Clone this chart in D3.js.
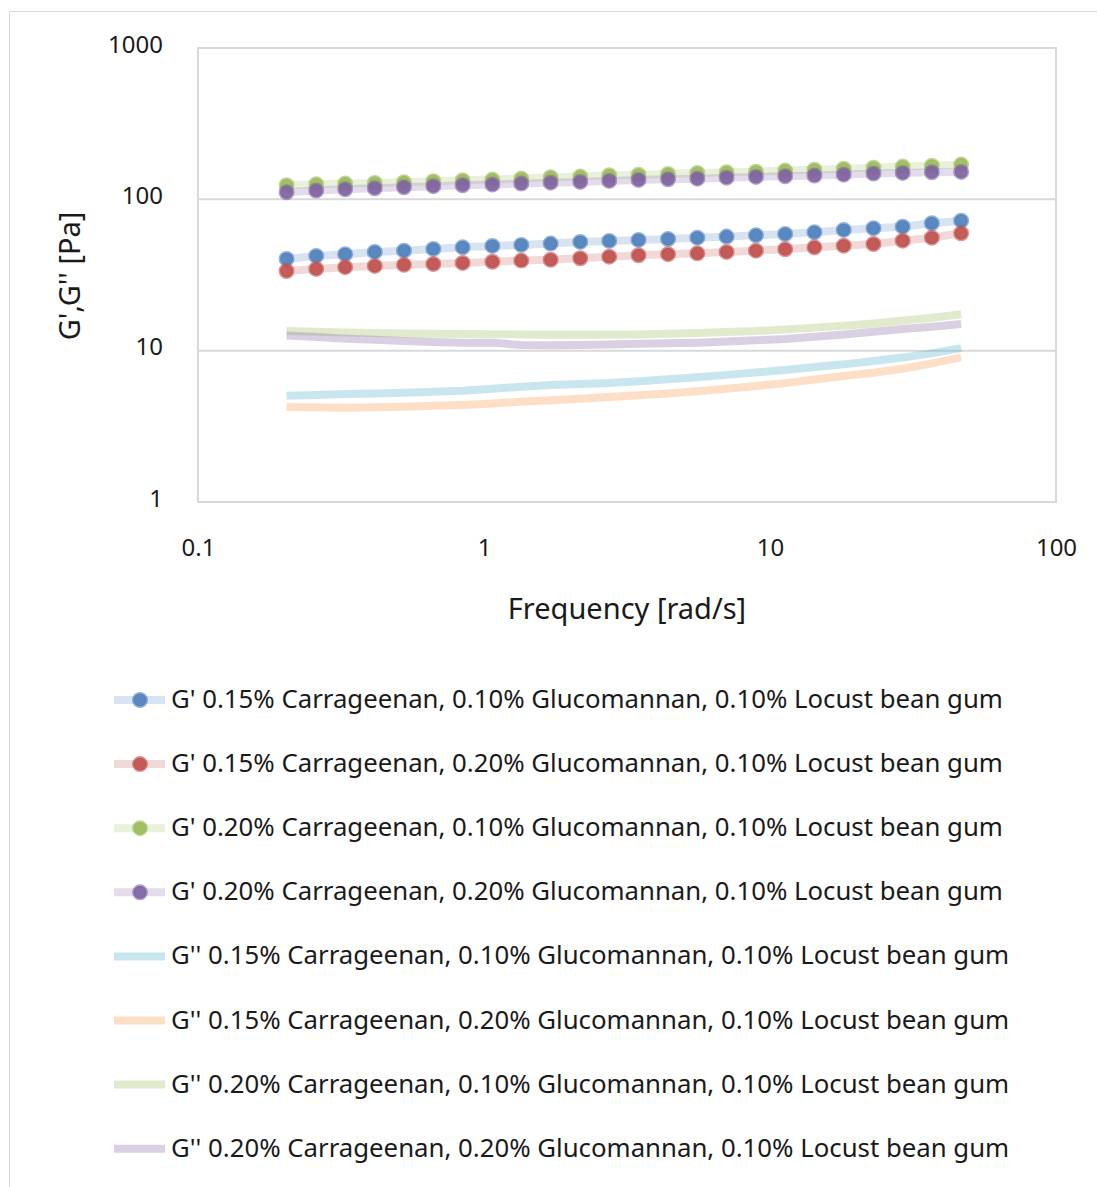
<!DOCTYPE html>
<html>
<head>
<meta charset="utf-8">
<script src="https://cdn.jsdelivr.net/npm/d3@7"></script>
<style>
  html, body { margin: 0; padding: 0; background: #fff; }
  svg { display: block; }
  text { font-family: "Noto Sans", "Open Sans", sans-serif; fill: #1a1a1a; }
</style>
</head>
<body>
<svg id="chart" width="1097" height="1187"></svg>
<script>
// ---------- data ----------
const frequency = [0.204, 0.259, 0.327, 0.415, 0.525, 0.665, 0.842, 1.07, 1.35, 1.71, 2.17, 2.74,
                   3.47, 4.40, 5.57, 7.05, 8.93, 11.3, 14.3, 18.1, 23.0, 29.1, 36.8, 46.6];

const gPrime_c015_g010 = [40.4, 42.3, 43.4, 44.9, 45.8, 47.0, 48.2, 49.2, 50.0, 51.0, 52.3, 53.1,
                          53.9, 54.7, 55.8, 56.7, 57.9, 59.0, 60.6, 62.8, 64.4, 66.0, 69.5, 72.3];
const gPrime_c015_g020 = [33.6, 34.7, 35.6, 36.3, 36.9, 37.4, 38.0, 38.7, 39.4, 39.9, 40.8, 41.8,
                          42.7, 43.4, 44.0, 44.9, 45.8, 46.8, 48.2, 49.4, 50.7, 53.3, 55.8, 59.7];
const gPrime_c020_g010 = [123.9, 125.8, 127.0, 128.4, 129.7, 131.8, 133.7, 135.0, 137.1, 139.9, 141.3, 144.3,
                          145.6, 147.2, 149.4, 151.0, 152.4, 154.8, 157.1, 159.5, 162.0, 164.5, 167.0, 169.6];
const gPrime_c020_g020 = [111.4, 114.2, 116.6, 118.4, 120.2, 122.1, 123.9, 125.1, 127.0, 128.9, 130.3, 132.3,
                          134.3, 135.8, 137.0, 139.1, 140.6, 142.1, 143.5, 145.6, 147.9, 149.4, 151.0, 151.7];

const gDouble_c015_g010 = [5.04, 5.10, 5.17, 5.22, 5.28, 5.36, 5.44, 5.60, 5.78, 5.93, 6.02, 6.12,
                           6.28, 6.48, 6.68, 6.92, 7.18, 7.45, 7.80, 8.12, 8.55, 9.00, 9.60, 10.4];
const gDouble_c015_g020 = [4.25, 4.22, 4.20, 4.22, 4.26, 4.32, 4.38, 4.48, 4.60, 4.70, 4.82, 4.95,
                           5.08, 5.22, 5.40, 5.60, 5.85, 6.10, 6.45, 6.80, 7.15, 7.60, 8.25, 9.04];
const gDouble_c020_g010 = [13.5, 13.35, 13.2, 13.1, 13.0, 12.95, 12.9, 12.85, 12.8, 12.75, 12.75, 12.75,
                           12.8, 12.95, 13.1, 13.3, 13.5, 13.8, 14.2, 14.6, 15.1, 15.8, 16.5, 17.4];
const gDouble_c020_g020 = [12.6, 12.3, 12.0, 11.8, 11.6, 11.4, 11.3, 11.3, 10.9, 10.85, 10.9, 11.0,
                           11.1, 11.2, 11.3, 11.5, 11.7, 11.95, 12.35, 12.8, 13.35, 13.9, 14.4, 15.0];

const seriesNames = [
  "G' 0.15% Carrageenan, 0.10% Glucomannan, 0.10% Locust bean gum",
  "G' 0.15% Carrageenan, 0.20% Glucomannan, 0.10% Locust bean gum",
  "G' 0.20% Carrageenan, 0.10% Glucomannan, 0.10% Locust bean gum",
  "G' 0.20% Carrageenan, 0.20% Glucomannan, 0.10% Locust bean gum",
  "G'' 0.15% Carrageenan, 0.10% Glucomannan, 0.10% Locust bean gum",
  "G'' 0.15% Carrageenan, 0.20% Glucomannan, 0.10% Locust bean gum",
  "G'' 0.20% Carrageenan, 0.10% Glucomannan, 0.10% Locust bean gum",
  "G'' 0.20% Carrageenan, 0.20% Glucomannan, 0.10% Locust bean gum"
];
const seriesValues = [gPrime_c015_g010, gPrime_c015_g020, gPrime_c020_g010, gPrime_c020_g020,
                      gDouble_c015_g010, gDouble_c015_g020, gDouble_c020_g010, gDouble_c020_g020];
const seriesHasMarkers = [true, true, true, true, false, false, false, false];
const seriesColors = ["#4F81BD", "#C0504D", "#9BBB59", "#8064A2", "#4BACC6", "#F79646", "#9BBB59", "#8064A2"];

const xTickValues = [0.1, 1, 10, 100];
const xTickLabels = ["0.1", "1", "10", "100"];
const yTickValues = [1, 10, 100, 1000];
const yTickLabels = ["1", "10", "100", "1000"];
const xTitle = "Frequency [rad/s]";
const yTitle = "G',G'' [Pa]";

// ---------- layout ----------
const svg = d3.select("#chart");
const plot = { left: 198, right: 1056, top: 48, bottom: 502 };

const x = d3.scaleLog().domain([0.1, 100]).range([plot.left, plot.right]);
const y = d3.scaleLog().domain([1, 1000]).range([plot.bottom, plot.top]);

// outer chart border
svg.append("rect")
  .attr("x", 9.5).attr("y", 11.5).attr("width", 1100).attr("height", 1200)
  .attr("fill", "none").attr("stroke", "#d9d9d9").attr("stroke-width", 1);

// gridlines
svg.append("g")
  .selectAll("line")
  .data(yTickValues)
  .join("line")
  .attr("x1", plot.left).attr("x2", plot.right)
  .attr("y1", d => y(d)).attr("y2", d => y(d))
  .attr("stroke", "#d9d9d9").attr("stroke-width", 2);

// plot border
svg.append("rect")
  .attr("x", plot.left).attr("y", plot.top)
  .attr("width", plot.right - plot.left).attr("height", plot.bottom - plot.top)
  .attr("fill", "none").attr("stroke", "#d9d9d9").attr("stroke-width", 2);

// axes
const yAxis = d3.axisLeft(y).tickValues(yTickValues)
  .tickFormat((d, i) => yTickLabels[i]).tickSize(0).tickPadding(35);
const gy = svg.append("g").attr("transform", `translate(${plot.left},0)`).call(yAxis);
gy.select(".domain").remove();
gy.selectAll("text").attr("font-size", 24).attr("dy", "0.18em")
  .style("font-family", '"Noto Sans", sans-serif').attr("fill", "#1a1a1a");

const xAxis = d3.axisBottom(x).tickValues(xTickValues)
  .tickFormat((d, i) => xTickLabels[i]).tickSize(0).tickPadding(37);
const gx = svg.append("g").attr("transform", `translate(0,${plot.bottom})`).call(xAxis);
gx.select(".domain").remove();
gx.selectAll("text").attr("font-size", 24)
  .style("font-family", '"Noto Sans", sans-serif').attr("fill", "#1a1a1a");

// titles
svg.append("text").attr("x", 627).attr("y", 619).attr("text-anchor", "middle")
  .attr("font-size", 29).text(xTitle);
svg.append("text").attr("transform", "translate(80,276) rotate(-90)")
  .attr("text-anchor", "middle").attr("font-size", 29).text(yTitle);

// ---------- series ----------
const line = d3.line().x(d => x(d[0])).y(d => y(d[1]));
const seriesData = seriesValues.map(vals => frequency.map((f, i) => [f, vals[i]]));

const gSeries = svg.append("g");
seriesData.forEach((pts, si) => {
  const c = seriesColors[si];
  const g = gSeries.append("g");
  g.append("path").datum(pts).attr("d", line)
    .attr("fill", "none").attr("stroke", c)
    .attr("stroke-opacity", seriesHasMarkers[si] ? 0.22 : 0.3)
    .attr("stroke-width", 8).attr("stroke-linecap", "butt").attr("stroke-linejoin", "round");
  if (seriesHasMarkers[si]) {
    g.selectAll("circle").data(pts).join("circle")
      .attr("cx", d => x(d[0])).attr("cy", d => y(d[1])).attr("r", 6.5)
      .attr("fill", c).attr("fill-opacity", 0.92)
      .attr("stroke", c).attr("stroke-opacity", 0.6).attr("stroke-width", 3);
  }
});

// ---------- legend ----------
const legendTop = 700, legendStep = 64.1;
const legend = svg.append("g");
seriesNames.forEach((name, i) => {
  const cy = legendTop + i * legendStep;
  const c = seriesColors[i];
  const row = legend.append("g");
  row.append("line").attr("x1", 114).attr("x2", 165).attr("y1", cy).attr("y2", cy)
    .attr("stroke", c).attr("stroke-opacity", seriesHasMarkers[i] ? 0.22 : 0.3)
    .attr("stroke-width", 8);
  if (seriesHasMarkers[i]) {
    row.append("circle").attr("cx", 140).attr("cy", cy).attr("r", 6.5)
      .attr("fill", c).attr("fill-opacity", 0.92)
      .attr("stroke", c).attr("stroke-opacity", 0.6).attr("stroke-width", 3);
  }
  const t = row.append("text").attr("x", 171).attr("y", cy + 8).attr("font-size", 24).text(name);
  // fit text to the reference width
  const target = seriesHasMarkers[i] ? 832 : 839;
  const w = t.node().getComputedTextLength();
  t.attr("font-size", 24 * target / w);
});
</script>
</body>
</html>
